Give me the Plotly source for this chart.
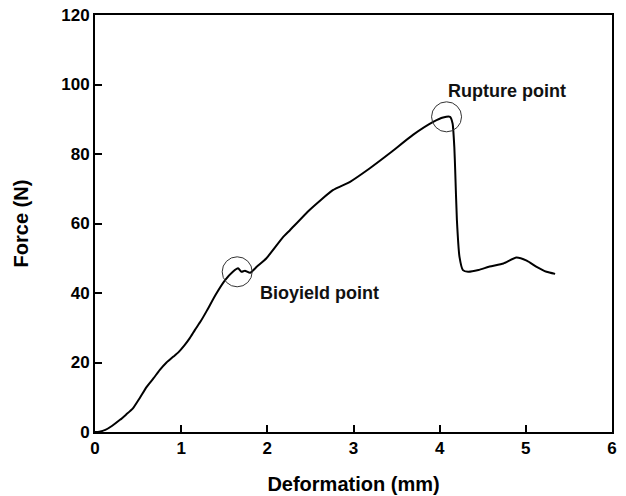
import plotly.graph_objects as go

deformation_mm = [0, 0.05, 0.12, 0.2, 0.29, 0.36, 0.44, 0.52, 0.6, 0.68, 0.75, 0.83, 0.91, 0.97,
                  1.04, 1.1, 1.16, 1.23, 1.3, 1.4, 1.51, 1.6, 1.66, 1.70, 1.74, 1.80, 1.88, 1.99,
                  2.18, 2.26, 2.49, 2.76, 2.96, 3.19, 3.42, 3.69, 3.93, 4.04, 4.12, 4.15, 4.17,
                  4.18, 4.20, 4.23, 4.27, 4.33, 4.45, 4.58, 4.74, 4.89, 5.01, 5.12, 5.24, 5.34]
force_n = [0, 0.1, 0.6, 1.8, 3.5, 5.0, 6.8, 9.8, 13.0, 15.5, 17.8, 20.0, 21.7, 23.0,
           25.0, 27.0, 29.4, 32.0, 35.0, 39.5, 43.7, 46.1, 47.1, 46.1, 46.4, 45.8, 47.6, 50.0,
           56.0, 58.0, 63.9, 69.6, 72.0, 75.9, 80.2, 85.5, 89.3, 90.5, 90.7, 88.8, 82.0,
           75.4, 61.0, 50.4, 46.6, 46.1, 46.6, 47.6, 48.5, 50.2, 49.3, 47.6, 46.1, 45.5]

point_labels = ["Bioyield point", "Rupture point"]
point_x = [1.65, 4.08]
point_y = [46.1, 90.7]
label_x = [2.6, 4.78]
label_y = [40.0, 98.2]

x_ticks = [0, 1, 2, 3, 4, 5, 6]
y_ticks = [0, 20, 40, 60, 80, 100, 120]

font_family = "Liberation Sans, Arial, sans-serif"

fig = go.Figure()
fig.add_trace(go.Scatter(x=deformation_mm, y=force_n, mode="lines",
                         line=dict(color="black", width=2, shape="spline", smoothing=0.5),
                         showlegend=False))

for px, py in zip(point_x, point_y):
    fig.add_shape(type="circle", xref="x", yref="y", xsizemode="pixel", ysizemode="pixel",
                  xanchor=px, yanchor=py, x0=-15, x1=15, y0=-15, y1=15,
                  line=dict(color="#333333", width=1))

for txt, lx, ly in zip(point_labels, label_x, label_y):
    fig.add_annotation(x=lx, y=ly, xref="x", yref="y", text=txt, showarrow=False,
                       font=dict(family=font_family, size=18, color="#111111", weight="bold"))

axis_common = dict(showgrid=False, zeroline=False, showline=True, linecolor="black",
                   linewidth=2, mirror=True, ticks="inside", ticklen=7, tickwidth=2,
                   tickcolor="black", automargin=False, ticklabeloverflow="allow",
                   tickfont=dict(family=font_family, size=17, color="black", weight="bold"))

fig.update_xaxes(range=[0, 6], tickvals=x_ticks, ticktext=[str(v) for v in x_ticks],
                 title=dict(text="Deformation (mm)", standoff=20,
                            font=dict(family=font_family, size=20, color="black", weight="bold")),
                 **axis_common)
fig.update_yaxes(range=[0, 120], tickvals=y_ticks, ticktext=[str(v) for v in y_ticks],
                 title=dict(text="Force (N)", standoff=27,
                            font=dict(family=font_family, size=20, color="black", weight="bold")),
                 **axis_common)

fig.update_layout(width=626, height=496, margin=dict(l=95, r=14, t=15, b=64),
                  paper_bgcolor="white", plot_bgcolor="white")

# remove the browser's default 8px body margin so the figure fills the window
fig.write_html("out.html", config={"displayModeBar": False},
               post_script="document.body.style.margin='0';")
